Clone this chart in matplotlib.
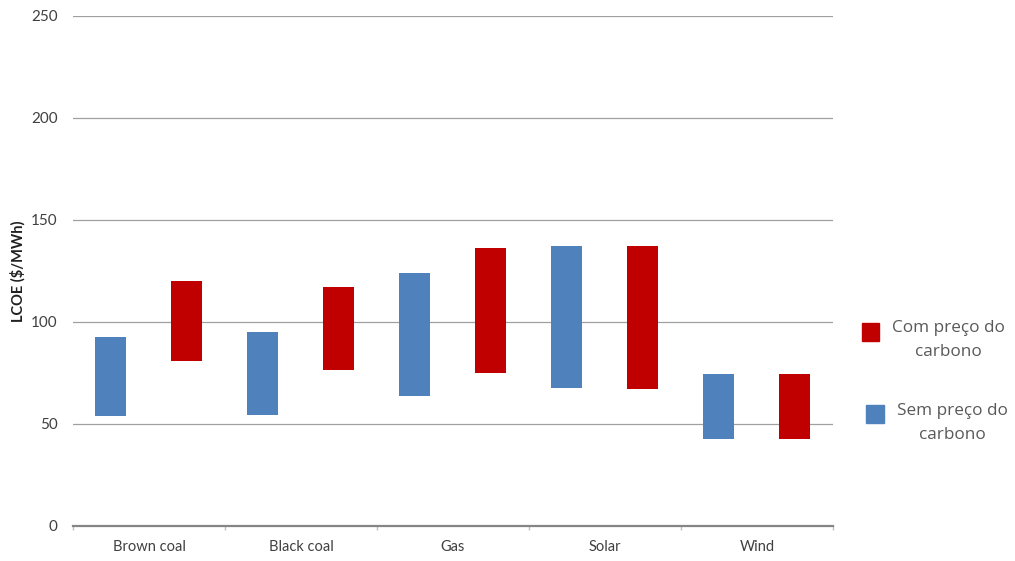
import matplotlib.pyplot as plt
import numpy as np
from matplotlib.patches import Rectangle

categories = ["Brown coal", "Black coal", "Gas", "Solar", "Wind"]
# LCOE ranges ($/MWh): without carbon price (blue) and with carbon price (red)
sem_low = [54.0, 54.6, 63.9, 67.6, 42.8]
sem_high = [92.8, 94.9, 123.9, 137.1, 74.5]
com_low = [80.9, 76.7, 75.1, 67.2, 42.8]
com_high = [120.2, 117.0, 136.4, 137.1, 74.5]
yticks = [0, 50, 100, 150, 200, 250]

BLUE = "#4F81BD"
RED = "#C00000"
TXT = "#404040"

fig = plt.figure(figsize=(10.15, 5.61), dpi=100)
ax = fig.add_axes([0.0719, 0.0624, 0.7488, 0.9091])

x = np.arange(len(categories))
w = 0.205
ax.bar(x - 0.255, np.array(sem_high) - np.array(sem_low), bottom=sem_low,
       width=w, color=BLUE, zorder=3)
ax.bar(x + 0.245, np.array(com_high) - np.array(com_low), bottom=com_low,
       width=w, color=RED, zorder=3)

ax.set_xlim(-0.5, len(categories) - 0.5)
ax.set_ylim(0, 250)
ax.set_yticks(yticks)
ax.yaxis.grid(True, color="#a0a0a0", linewidth=0.9, zorder=0)
ax.set_axisbelow(True)
for s in ["top", "right", "left"]:
    ax.spines[s].set_visible(False)
ax.spines["bottom"].set_color("#858585")
ax.spines["bottom"].set_linewidth(1.6)

ax.set_xticks(x)
ax.set_xticklabels(categories, fontsize=10.5, family="Lato", color=TXT)
ax.tick_params(axis="x", which="major", length=0, pad=10)
ax.set_xticks(np.arange(-0.5, len(categories) + 0.5, 1), minor=True)
ax.tick_params(axis="x", which="minor", length=3, color="#c0c0c0", width=1)
ax.tick_params(axis="y", length=0, pad=11, labelsize=11, labelcolor=TXT)
for lab in ax.get_yticklabels():
    lab.set_family("Lato")

ax.set_ylabel("LCOE ($/MWh)", fontsize=10.5, family="Lato", fontweight="bold",
              color="#202020", labelpad=4)

# legend drawn by hand: square + centred two-line label
leg = [(RED, "Com preço do\ncarbono", 0.849, 0.392, 0.934, 0.429),
       (BLUE, "Sem preço do\ncarbono", 0.853, 0.246, 0.938, 0.281)]
for col, label, sx, sy, tx, ty in leg:
    fig.patches.append(Rectangle((sx, sy), 0.0175, 0.0315, color=col,
                                 transform=fig.transFigure, figure=fig))
    fig.text(tx, ty, label, ha="center", va="top", fontsize=12.3,
             family="Open Sans", color="#595959", linespacing=1.6,
             multialignment="center")

fig.savefig("out.png", dpi=100)
